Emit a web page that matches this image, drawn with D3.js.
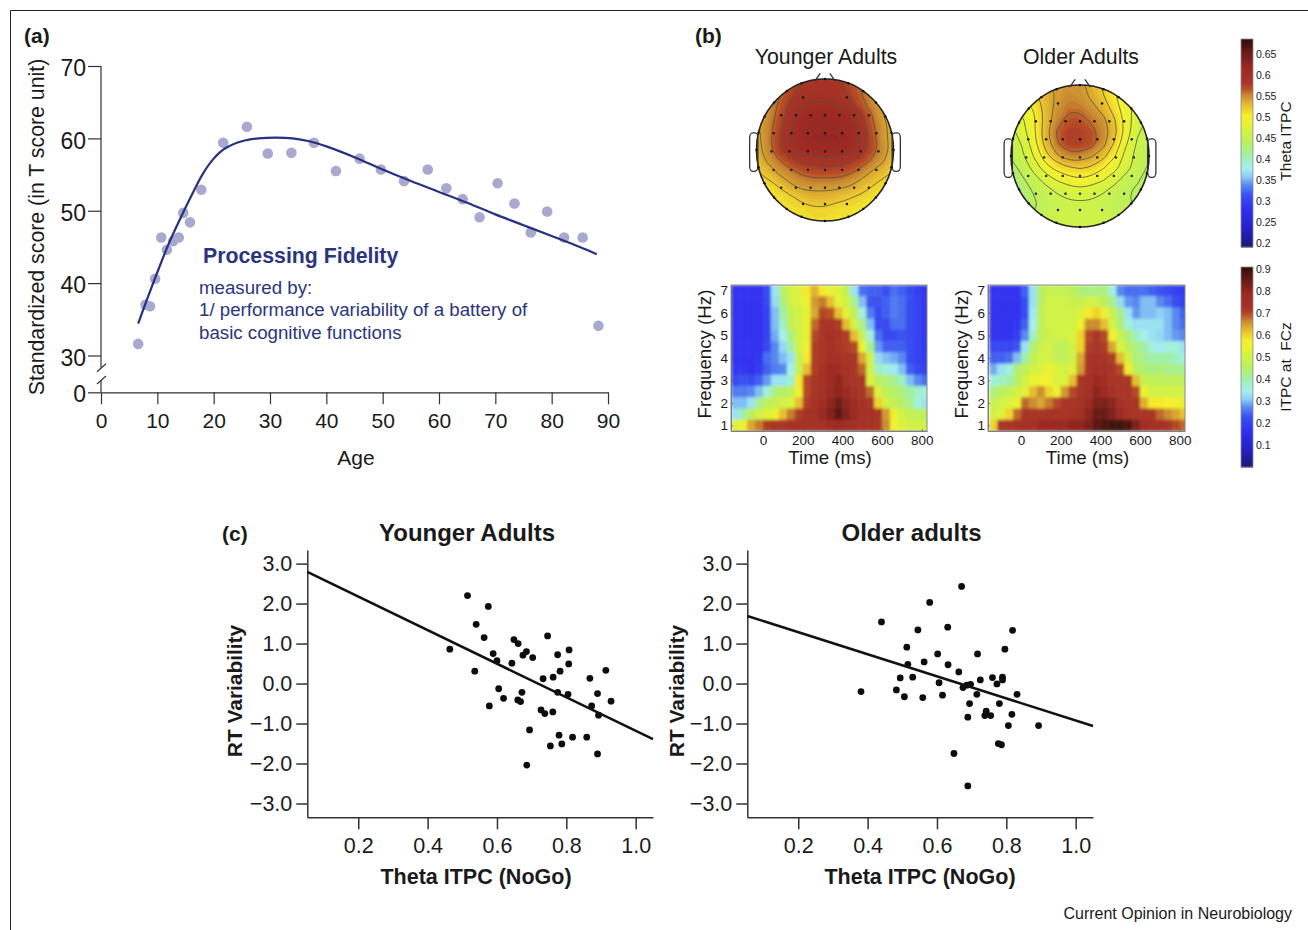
<!DOCTYPE html>
<html>
<head>
<meta charset="utf-8">
<script src="https://cdnjs.cloudflare.com/ajax/libs/d3/7.8.5/d3.min.js"></script>
<style>
  body { margin: 0; background: #fff; }
  text { font-family: "Liberation Sans", Arial, sans-serif; fill: #1a1a1a; white-space: pre; }
  .axis text { font-family: "Liberation Sans", Arial, sans-serif; fill: #1a1a1a; }
</style>
</head>
<body>
<svg width="1308" height="930"></svg>
<script>
// panel (a)
var ageX = [6.6,7.9,8.7,9.6,10.7,11.7,12.8,13.8,14.6,15.8,17.8,21.7,25.9,29.6,33.8,37.8,41.7,45.9,49.7,53.8,58.0,61.3,64.2,67.2,70.4,73.4,76.3,79.2,82.2,85.5,88.3];
var scoreY = [31.6,37.0,36.8,40.6,46.3,44.6,45.8,46.3,49.7,48.4,52.9,59.4,61.6,57.9,58.0,59.4,55.5,57.2,55.7,54.1,55.7,53.1,51.6,49.1,53.8,51.0,47.0,49.9,46.3,46.3,34.1];
var fitAge = [6.6,8,10,12,14,16,18,20,22,25,28,31,34,37,40,45,50,55,60,65,70,75,80,85,88];
var fitScore = [34.4,37.4,41.5,45.4,48.8,52.0,55.0,57.2,58.6,59.6,60,60.1,60,59.6,58.9,57.4,55.7,54.1,52.6,51.1,49.5,48,46.5,45,44];
var ageTicks = [0,10,20,30,40,50,60,70,80,90];
var scoreTicks = [0,30,40,50,60,70];

// panel (b) topographies, rows run front to back of the head, columns left to right
var topoYoung = [
  [.55,.55,.56,.57,.58,.585,.59,.585,.575,.565,.55,.54,.53],
  [.55,.55,.56,.575,.59,.595,.595,.59,.58,.565,.55,.54,.53],
  [.54,.55,.565,.585,.6,.605,.605,.6,.59,.57,.555,.54,.53],
  [.54,.55,.57,.595,.612,.618,.618,.618,.612,.59,.565,.545,.53],
  [.54,.555,.575,.6,.618,.622,.622,.622,.618,.6,.57,.55,.535],
  [.535,.555,.58,.605,.62,.625,.625,.625,.62,.605,.575,.55,.535],
  [.535,.555,.58,.6,.612,.618,.618,.618,.612,.6,.575,.555,.535],
  [.53,.545,.56,.575,.585,.59,.592,.59,.585,.575,.56,.545,.53],
  [.52,.53,.545,.555,.565,.57,.57,.57,.565,.555,.54,.53,.52],
  [.51,.515,.525,.54,.55,.55,.55,.55,.545,.535,.525,.515,.51],
  [.505,.51,.515,.52,.53,.535,.535,.53,.525,.52,.515,.51,.505],
  [.5,.505,.51,.515,.515,.52,.52,.515,.515,.51,.505,.505,.5],
  [.5,.5,.505,.51,.51,.515,.515,.51,.51,.505,.5,.5,.5]
];
var topoOlder = [
  [.5,.51,.525,.54,.545,.55,.55,.535,.52,.505,.49,.48,.47],
  [.49,.5,.515,.535,.545,.555,.55,.54,.525,.505,.49,.48,.47],
  [.48,.49,.505,.53,.55,.56,.56,.55,.535,.515,.49,.475,.465],
  [.465,.48,.5,.53,.555,.57,.57,.56,.55,.525,.495,.47,.46],
  [.455,.475,.5,.535,.565,.58,.58,.57,.555,.53,.495,.465,.455],
  [.45,.465,.495,.53,.56,.578,.578,.57,.55,.52,.485,.46,.45],
  [.445,.46,.485,.515,.54,.555,.555,.545,.53,.505,.475,.455,.445],
  [.435,.45,.47,.495,.51,.52,.525,.52,.505,.49,.47,.455,.44],
  [.42,.44,.455,.47,.485,.495,.5,.495,.485,.47,.455,.445,.435],
  [.41,.43,.445,.455,.465,.47,.475,.47,.465,.455,.445,.44,.43],
  [.405,.425,.44,.45,.455,.46,.46,.46,.455,.45,.445,.44,.43],
  [.405,.425,.445,.455,.46,.46,.46,.46,.46,.455,.45,.45,.45],
  [.405,.425,.445,.455,.46,.46,.46,.46,.46,.46,.46,.46,.46]
];
// electrode rows: row position, then offsets from the midline
var electrodeRowY = [-.74,-.49,-.235,.02,.28,.53,.76];
var electrodeRowX = [[.32],[0,.21,.425,.64],[0,.25,.49,.75],[0,.25,.52,.78],[0,.25,.49,.75],[0,.21,.425,.64],[0,.32]];
var rimAngles = [0,14,28,42,56,70,90,110,124,138,152,166,180,194,208,222,236,250,270,290,304,318,332,346];
var topoTicks = [.2,.25,.3,.35,.4,.45,.5,.55,.6,.65];
var heatBarTicks = [.1,.2,.3,.4,.5,.6,.7,.8,.9];

// panel (b) time-frequency maps
var timesMs = [-140,-100,-60,-20,20,60,100,140,180,220,260,300,340,380,420,460,500,540,580,620,660,700,740,780,820];
var freqsHz = [7,6.5,6,5.5,5,4.5,4,3.5,3,2.5,2,1.5,1];
var timeTicks = [0,200,400,600,800];
var freqTicks = [1,2,3,4,5,6,7];
var heatYoung = [
  [.17,.17,.17,.17,.22,.33,.45,.5,.52,.58,.63,.58,.54,.52,.47,.33,.25,.24,.24,.22,.25,.24,.22,.19,.18],
  [.17,.17,.17,.17,.21,.32,.43,.5,.52,.55,.65,.67,.62,.53,.5,.42,.3,.23,.23,.24,.26,.25,.22,.2,.18],
  [.17,.17,.17,.17,.2,.3,.4,.48,.5,.54,.64,.7,.69,.62,.53,.47,.36,.26,.22,.24,.26,.25,.22,.2,.18],
  [.17,.17,.17,.17,.2,.3,.38,.47,.5,.54,.68,.72,.72,.71,.62,.5,.42,.3,.22,.22,.25,.25,.22,.2,.18],
  [.17,.17,.17,.17,.2,.29,.35,.43,.5,.54,.7,.72,.73,.72,.71,.62,.48,.36,.25,.21,.22,.23,.22,.2,.18],
  [.17,.17,.17,.17,.21,.27,.32,.4,.5,.56,.71,.72,.74,.72,.71,.7,.55,.42,.28,.24,.24,.24,.22,.2,.18],
  [.17,.17,.17,.18,.25,.27,.3,.33,.48,.58,.71,.72,.75,.74,.72,.72,.64,.5,.32,.3,.29,.27,.22,.2,.19],
  [.18,.18,.17,.19,.24,.26,.27,.35,.48,.62,.71,.73,.77,.76,.73,.72,.68,.5,.38,.36,.34,.3,.24,.21,.2],
  [.22,.23,.22,.24,.28,.33,.33,.37,.58,.7,.72,.74,.77,.8,.75,.72,.72,.52,.46,.44,.42,.38,.3,.27,.25],
  [.26,.26,.27,.3,.36,.43,.45,.47,.55,.7,.72,.75,.78,.8,.78,.74,.72,.68,.52,.47,.45,.43,.4,.38,.36],
  [.3,.3,.33,.42,.47,.48,.5,.52,.62,.71,.73,.76,.8,.84,.8,.77,.74,.72,.6,.5,.47,.45,.42,.36,.33],
  [.33,.4,.46,.5,.52,.55,.62,.67,.71,.73,.75,.78,.82,.86,.82,.78,.75,.73,.72,.65,.55,.5,.48,.47,.46],
  [.52,.55,.64,.67,.71,.72,.72,.73,.73,.74,.74,.75,.76,.78,.76,.75,.74,.73,.72,.66,.56,.52,.5,.5,.5]
];
var heatOlder = [
  [.17,.17,.17,.17,.24,.33,.45,.48,.48,.48,.46,.44,.43,.43,.43,.36,.27,.25,.25,.25,.24,.23,.22,.2,.19],
  [.17,.17,.17,.17,.22,.33,.45,.5,.5,.5,.49,.48,.5,.5,.46,.42,.32,.28,.27,.3,.3,.27,.25,.22,.2],
  [.17,.17,.17,.17,.22,.34,.47,.5,.5,.5,.5,.52,.58,.6,.55,.48,.42,.33,.28,.3,.3,.31,.3,.27,.24],
  [.17,.17,.17,.18,.24,.35,.47,.5,.5,.5,.5,.55,.66,.66,.62,.5,.44,.36,.33,.33,.33,.33,.3,.27,.25],
  [.17,.17,.17,.19,.27,.38,.47,.49,.5,.5,.52,.6,.7,.72,.7,.57,.49,.44,.38,.35,.33,.32,.3,.28,.27],
  [.21,.21,.21,.23,.33,.44,.49,.5,.47,.47,.5,.6,.71,.72,.71,.64,.52,.46,.43,.4,.36,.34,.36,.36,.33],
  [.24,.24,.25,.3,.4,.47,.5,.5,.48,.47,.5,.64,.72,.73,.72,.71,.62,.5,.44,.42,.4,.4,.4,.38,.36],
  [.29,.33,.36,.44,.47,.5,.52,.55,.52,.5,.52,.65,.72,.75,.74,.72,.7,.58,.46,.44,.43,.44,.42,.42,.42],
  [.36,.38,.4,.45,.5,.55,.56,.56,.52,.52,.62,.72,.73,.78,.76,.72,.72,.72,.62,.48,.47,.47,.47,.47,.46],
  [.43,.46,.48,.5,.53,.62,.66,.6,.55,.65,.7,.72,.75,.8,.78,.74,.72,.72,.7,.55,.5,.5,.5,.5,.5],
  [.48,.5,.52,.55,.68,.66,.64,.67,.7,.72,.72,.73,.78,.82,.83,.8,.75,.72,.72,.63,.58,.58,.57,.56,.54],
  [.5,.52,.6,.68,.72,.72,.72,.74,.72,.72,.73,.75,.8,.85,.85,.82,.78,.74,.72,.72,.72,.68,.66,.64,.62],
  [.6,.72,.72,.73,.73,.74,.77,.78,.78,.78,.8,.8,.82,.86,.88,.9,.9,.88,.82,.76,.74,.73,.72,.7,.68]
];

// panel (c)
var youngTheta = [.515,.575,.54,.563,.464,.589,.6,.536,.649,.661,.746,.808,.775,.675,.685,.703,.643,.807,.782,.762,.733,.868,.914,.605,.619,.578,.672,.66,.668,.775,.805,.89,.929,.873,.727,.738,.761,.893,.694,.779,.818,.859,.754,.787,.89,.686];
var youngRT = [2.2,1.93,1.48,1.15,.86,.75,.57,.31,1.1,1.0,1.19,.84,.72,.71,.8,.65,.51,.49,.31,.16,.12,.13,.33,-.13,-.37,-.56,-.22,-.41,-.45,-.22,-.27,-.25,-.44,-.56,-.66,-.75,-.71,-.79,-1.16,-1.29,-1.34,-1.34,-1.56,-1.51,-1.76,-2.04];
var olderTheta = [.671,.579,.44,.545,.631,.818,.513,.796,.602,.717,.563,.516,.632,.663,.494,.53,.76,.789,.725,.789,.773,.606,.697,.686,.675,.381,.483,.506,.559,.616,.715,.831,.694,.78,.742,.738,.755,.689,.816,.806,.893,.777,.786,.649,.689];
var olderRT = [2.43,2.03,1.54,1.34,1.41,1.33,.91,.86,.74,.74,.54,.48,.47,.29,.14,.16,.15,.16,.09,.09,-.01,.02,-.02,-.04,-.1,-.2,-.16,-.33,-.35,-.29,-.27,-.27,-.5,-.5,-.69,-.8,-.8,-.84,-.77,-1.05,-1.05,-1.5,-1.53,-1.75,-2.56];
var youngLineX = [.053,1.05], youngLineY = [2.79,-1.39];
var olderLineX = [.053,1.05], olderLineY = [1.69,-1.06];
var thetaTicks = [.2,.4,.6,.8,1.0];
var rtTicks = [-3,-2,-1,0,1,2,3];

var svg = d3.select("svg");
var navy = "#2a3580";
var FONT = '"Liberation Sans", Arial, sans-serif';

// shared colour map, 0..1 along the colour bar
var jet = d3.scaleLinear()
  .domain([0,.08,.18,.25,.3,.34,.38,.44,.5,.58,.63,.68,.73,.76,.79,.86,.93,1])
  .range(["#1c1a72","#2520c0","#2f2ff0","#3a50f0","#5a8cf0","#8fd0f4","#a4f0f0","#a0f0a8","#b8f060","#e0f338","#f8f02e","#e8c030","#c88a30","#b85028","#a83528","#9c2a22","#6d1c18","#301008"])
  .clamp(true);
var topoColor = function(v) { return jet((v - .19) / .496); };
var heatColor = function(v) { return jet(v / .91); };

var defs = svg.append("defs");
defs.append("filter").attr("id", "blurHeat").attr("x", "-5%").attr("y", "-5%").attr("width", "110%").attr("height", "110%")
  .append("feGaussianBlur").attr("stdDeviation", 1.4);
defs.append("filter").attr("id", "blurTopo")
  .append("feGaussianBlur").attr("stdDeviation", .5);

function label(g, x, y, str, size, opts) {
  opts = opts || {};
  return g.append("text")
    .attr("transform", "translate(" + x + "," + y + ")" + (opts.rot ? " rotate(" + opts.rot + ")" : ""))
    .attr("text-anchor", opts.anchor || "middle")
    .attr("font-size", size)
    .attr("font-weight", opts.bold ? "bold" : null)
    .style("fill", opts.fill || null)
    .text(str);
}

function styleAxis(g, size, stroke, width) {
  g.attr("class", "axis");
  g.selectAll("text").attr("font-size", size).style("font-family", FONT);
  g.selectAll("line,path").attr("stroke", stroke).attr("stroke-width", width);
}

// page frame
svg.append("path").attr("d", "M10.5,930V10.5H1308").attr("fill", "none").attr("stroke", "#222").attr("stroke-width", 1);

label(svg, 24, 43, "(a)", 21, {anchor: "start", bold: true});
label(svg, 695, 43, "(b)", 21, {anchor: "start", bold: true});
label(svg, 222, 541, "(c)", 21, {anchor: "start", bold: true});

// ---- panel (a)
function drawFidelity() {
  var g = svg.append("g");
  var x = d3.scaleLinear().domain([0, 90]).range([101, 608]);
  var y = d3.scaleLinear().domain([0, 30, 70]).range([392.3, 355.5, 66]);

  var gx = g.append("g").attr("transform", "translate(0,392.3)")
    .call(d3.axisBottom(x).tickValues(ageTicks).tickSize(12).tickSizeOuter(0).tickPadding(9));
  styleAxis(gx, 21, "#333", 1.2);

  var gy = g.append("g").attr("transform", "translate(101,0)")
    .call(d3.axisLeft(y).tickValues(scoreTicks).tickSize(13).tickPadding(2));
  styleAxis(gy, 23, "#333", 1.2);
  gy.select(".domain").remove();
  gy.selectAll("text").attr("dy", "0.42em");

  // broken y axis
  g.append("path").attr("fill", "none").attr("stroke", "#333").attr("stroke-width", 1.2)
    .attr("d", "M101," + y(70) + "V" + y(20) + "M101," + y(10) + "V" + y(0));
  [20, 10].forEach(function(v) {
    g.append("line").attr("x1", 97).attr("x2", 106)
      .attr("y1", y(v) + 4).attr("y2", y(v) - 4)
      .attr("stroke", "#333").attr("stroke-width", 1.2);
  });

  g.append("g").selectAll("circle").data(ageX).enter().append("circle")
    .attr("cx", function(d) { return x(d); })
    .attr("cy", function(d, i) { return y(scoreY[i]); })
    .attr("r", 5.3)
    .attr("fill", "#a9a9d0");

  var line = d3.line()
    .x(function(d) { return x(d); })
    .y(function(d, i) { return y(fitScore[i]); })
    .curve(d3.curveCatmullRom);
  g.append("path").datum(fitAge).attr("d", line)
    .attr("fill", "none").attr("stroke", "#26317f").attr("stroke-width", 2.2);

  label(g, 44, 227, "Standardized score (in T score unit)", 21.3, {rot: -90});
  label(g, 356, 465, "Age", 21);
  label(g, 203, 263, "Processing Fidelity", 21.3, {anchor: "start", bold: true, fill: navy});
  label(g, 199, 294, "measured by:", 18.7, {anchor: "start", fill: navy});
  label(g, 199, 316, "1/ performance variability of a battery of", 18.7, {anchor: "start", fill: navy});
  label(g, 199, 339, "basic cognitive functions", 18.7, {anchor: "start", fill: navy});
}

// ---- panel (b) heads
function drawHead(grid, cx, cy, rx, ry, id) {
  var g = svg.append("g");
  var hx = d3.scaleLinear().domain([-1, 1]).range([cx - rx, cx + rx]);
  var hy = d3.scaleLinear().domain([-1, 1]).range([cy - ry, cy + ry]);
  var n = grid.length;
  var cellX = d3.scaleLinear().domain([.5, n - .5]).range([cx - rx, cx + rx]);
  var cellY = d3.scaleLinear().domain([.5, n - .5]).range([cy - ry, cy + ry]);

  defs.append("clipPath").attr("id", id).append("ellipse")
    .attr("cx", cx).attr("cy", cy).attr("rx", rx).attr("ry", ry);

  var flat = d3.merge(grid);
  var contourGen = d3.contours().size([n, n]);
  var ringLine = d3.line().x(function(p) { return cellX(p[0]); }).y(function(p) { return cellY(p[1]); })
    .curve(d3.curveBasisClosed);
  var ringPath = function(c) {
    return c.coordinates.map(function(poly) {
      return poly.map(function(ring) { return ringLine(ring.slice(0, -1)); }).join("");
    }).join("");
  };

  var clipped = g.append("g").attr("clip-path", "url(#" + id + ")");
  var fillG = clipped.append("g").attr("filter", "url(#blurTopo)");
  fillG.append("ellipse").attr("cx", cx).attr("cy", cy).attr("rx", rx + 3).attr("ry", ry + 3)
    .attr("fill", topoColor(d3.min(flat)));
  fillG.selectAll("path")
    .data(contourGen.thresholds(d3.range(.4, .66, .004))(flat))
    .enter().append("path")
    .attr("d", ringPath)
    .attr("fill-rule", "evenodd")
    .attr("fill", function(d) { return topoColor(d.value); });

  clipped.selectAll(".iso")
    .data(contourGen.thresholds(d3.range(.443, .62, .02))(flat))
    .enter().append("path").attr("class", "iso")
    .attr("d", ringPath)
    .attr("fill", "none").attr("stroke", "#55553f").attr("stroke-width", 1).attr("stroke-opacity", .8);

  // outline, ears, nose
  g.append("ellipse").attr("cx", cx).attr("cy", cy).attr("rx", rx).attr("ry", ry)
    .attr("fill", "none").attr("stroke", "#222").attr("stroke-width", 1.6);
  [-1, 1].forEach(function(s) {
    g.append("rect")
      .attr("x", s < 0 ? hx(-1.1) : hx(.98)).attr("y", hy(-.24))
      .attr("width", hx(.12) - hx(0)).attr("height", hy(.3) - hy(-.24))
      .attr("rx", 3).attr("ry", 5)
      .attr("fill", "none").attr("stroke", "#333").attr("stroke-width", 1.3);
    g.append("line")
      .attr("x1", hx(s * .15)).attr("y1", hy(-.97))
      .attr("x2", hx(s * .07)).attr("y2", hy(-1.08))
      .attr("stroke", "#333").attr("stroke-width", 1.3);
  });

  // electrodes
  var dots = g.append("g").attr("fill", "#111");
  electrodeRowY.forEach(function(ey, r) {
    electrodeRowX[r].forEach(function(ex) {
      (ex === 0 ? [0] : [-ex, ex]).forEach(function(v) {
        dots.append("circle").attr("cx", hx(v)).attr("cy", hy(ey)).attr("r", 1.2);
      });
    });
  });
  rimAngles.forEach(function(a) {
    var t = a * Math.PI / 180;
    dots.append("circle").attr("cx", hx(Math.cos(t))).attr("cy", hy(Math.sin(t))).attr("r", 1.2);
  });
}

// ---- panel (b) time-frequency
function drawHeat(values, x0, x1, zeroX, id) {
  var g = svg.append("g");
  var y0 = 285, y1 = 431;
  var pxPerMs = 39.7 / 200;
  var x = d3.scaleLinear().domain([(x0 - zeroX) / pxPerMs, (x1 - zeroX) / pxPerMs]).range([x0, x1]);
  var y = d3.scaleLinear().domain([.75, 7.25]).range([y1, y0]);

  defs.append("clipPath").attr("id", id).append("rect")
    .attr("x", x0).attr("y", y0).attr("width", x1 - x0).attr("height", y1 - y0);

  var inner = g.append("g").attr("clip-path", "url(#" + id + ")").append("g").attr("filter", "url(#blurHeat)");
  freqsHz.forEach(function(f, r) {
    inner.append("g").selectAll("rect").data(values[r]).enter().append("rect")
      .attr("x", function(d, i) { return x(timesMs[i] - 20); })
      .attr("y", y(f + .25))
      .attr("width", x(40) - x(0) + .5)
      .attr("height", y(0) - y(.5) + .5)
      .attr("fill", function(d) { return heatColor(d); });
  });

  var gx = g.append("g").attr("transform", "translate(0," + y1 + ")")
    .call(d3.axisBottom(x).tickValues(timeTicks).tickSize(-2).tickSizeOuter(0).tickPadding(4));
  styleAxis(gx, 13.5, "#555", .8);
  var gy = g.append("g").attr("transform", "translate(" + x0 + ",0)")
    .call(d3.axisLeft(y).tickValues(freqTicks).tickFormat(d3.format("d")).tickSize(-2).tickSizeOuter(0).tickPadding(3));
  styleAxis(gy, 13.5, "#555", .8);

  g.append("rect").attr("x", x0).attr("y", y0).attr("width", x1 - x0).attr("height", y1 - y0)
    .attr("fill", "none").attr("stroke", "#8a8a8a").attr("stroke-width", 1);

  label(g, x0 - 23 + 3, (y0 + y1) / 2 - 4, "Frequency (Hz)", 18.7, {rot: -90});
  label(g, (x0 + x1) / 2 + 1, 464, "Time (ms)", 18.7);
}

function drawColorBar(color, domain, top, bottom, ticks, name, nameY) {
  var g = svg.append("g");
  var s = d3.scaleLinear().domain(domain).range([bottom, top]);
  var steps = d3.range(bottom, top, -1);
  g.append("g").selectAll("rect").data(steps).enter().append("rect")
    .attr("x", 1241).attr("width", 12)
    .attr("y", function(d) { return d - 1; })
    .attr("height", 1.5)
    .attr("fill", function(d) { return color(s.invert(d)); });
  g.append("rect").attr("x", 1241).attr("y", top).attr("width", 12).attr("height", bottom - top)
    .attr("fill", "none").attr("stroke", "#8a8a9a").attr("stroke-width", .8);
  var axis = g.append("g").attr("transform", "translate(1253,0)")
    .call(d3.axisRight(s).tickValues(ticks).tickFormat(d3.format("~g")).tickSize(0).tickPadding(3));
  styleAxis(axis, 10.5, "none", 0);
  label(g, 1291, nameY, name, 15.5, {rot: -90});
}

// ---- panel (c)
function drawScatter(xs, ys, lineX, lineY, offset, title, titleX, labelX) {
  var g = svg.append("g");
  var x = d3.scaleLinear().domain([.053, 1.05]).range([307.3 + offset, 653 + offset]);
  var y = d3.scaleLinear().domain([-3.345, 3.34]).range([817.3, 550]);

  var gx = g.append("g").attr("transform", "translate(0,817.3)")
    .call(d3.axisBottom(x).tickValues(thetaTicks).tickFormat(d3.format(".1f")).tickSize(12).tickSizeOuter(0).tickPadding(8));
  styleAxis(gx, 21.5, "#333", 1.5);
  var gy = g.append("g").attr("transform", "translate(" + (307.3 + offset) + ",0)")
    .call(d3.axisLeft(y).tickValues(rtTicks).tickFormat(d3.format(".1f")).tickSize(11).tickSizeOuter(0).tickPadding(4));
  styleAxis(gy, 21.5, "#333", 1.5);

  g.append("g").selectAll("circle").data(xs).enter().append("circle")
    .attr("cx", function(d) { return x(d); })
    .attr("cy", function(d, i) { return y(ys[i]); })
    .attr("r", 3.4)
    .attr("fill", "#0d0d0d");

  g.append("path").datum(lineX)
    .attr("d", d3.line().x(function(d) { return x(d); }).y(function(d, i) { return y(lineY[i]); }))
    .attr("fill", "none").attr("stroke", "#111").attr("stroke-width", 2.5);

  label(g, labelX, 691, "RT Variability", 20.9, {rot: -90, bold: true});
  label(g, 476 + offset + (offset ? 4 : 0), 884, "Theta ITPC (NoGo)", 21.5, {bold: true});
  label(g, titleX, 541, title, 24, {bold: true});
}

drawFidelity();

label(svg, 826, 64, "Younger Adults", 21.3);
label(svg, 1081, 64, "Older Adults", 21.3);
drawHead(topoYoung, 825, 150, 68.5, 71, "headYoung");
drawHead(topoOlder, 1080, 156, 69, 71, "headOlder");
drawHeat(heatYoung, 731, 927, 763, "heatYoungClip");
drawHeat(heatOlder, 988, 1185, 1021, "heatOlderClip");
drawColorBar(topoColor, [.19, .686], 39, 247, topoTicks, "Theta ITPC", 141);
drawColorBar(heatColor, [0, .91], 267, 467, heatBarTicks, "ITPC at  FCz", 367);

drawScatter(youngTheta, youngRT, youngLineX, youngLineY, 0, "Younger Adults", 467, 242);
drawScatter(olderTheta, olderRT, olderLineX, olderLineY, 440, "Older adults", 911.5, 684);

label(svg, 1292, 919, "Current Opinion in Neurobiology", 16, {anchor: "end"});
</script>
</body>
</html>
